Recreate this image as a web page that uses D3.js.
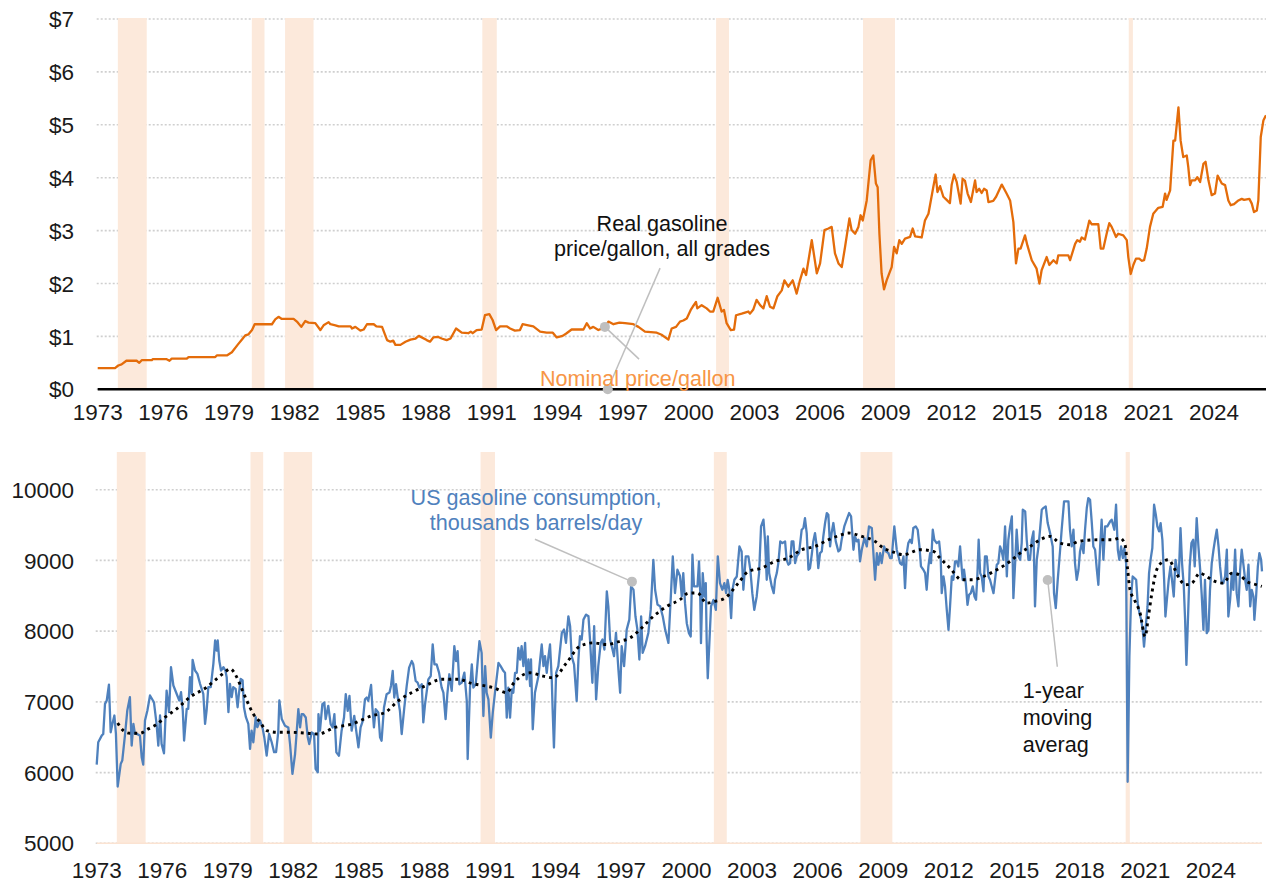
<!DOCTYPE html>
<html><head><meta charset="utf-8">
<script src="https://cdn.jsdelivr.net/npm/d3@7"></script>
<style>
html,body{margin:0;padding:0;background:#fff;}
svg{display:block;}
.tick{font-family:"Liberation Sans",Arial,sans-serif;font-size:22.5px;fill:#1a1a1a;}
.ann{font-family:"Liberation Sans",Arial,sans-serif;font-size:21.6px;}
</style></head>
<body>
<svg id="chart" width="1266" height="886"></svg>
<script>
// ---------- DATA ----------
const tickYears = [1973,1976,1979,1982,1985,1988,1991,1994,1997,2000,2003,2006,2009,2012,2015,2018,2021,2024];
const priceTicks = [0,1,2,3,4,5,6,7];
const consTicks = [5000,6000,7000,8000,9000,10000];
const recessions = [[1973.92,1975.24],[1980.04,1980.62],[1981.56,1982.86],[1990.57,1991.23],[2001.25,2001.84],[2007.96,2009.42],[2020.10,2020.29]];

const price1973_1989 = [[1973.00,0.40],[1973.79,0.40],[1973.94,0.45],[1974.09,0.47],[1974.31,0.54],[1974.78,0.54],[1974.90,0.50],[1975.01,0.55],[1975.47,0.55],[1975.51,0.57],[1976.15,0.57],[1976.28,0.54],[1976.38,0.58],[1977.07,0.58],[1977.15,0.61],[1978.37,0.61],[1978.44,0.64],[1978.90,0.64],[1979.13,0.70],[1979.39,0.84],[1979.59,0.94],[1979.74,1.02],[1979.89,1.04],[1980.05,1.12],[1980.17,1.23],[1980.96,1.23],[1981.11,1.32],[1981.26,1.37],[1981.41,1.33],[1981.95,1.33],[1982.10,1.28],[1982.30,1.18],[1982.48,1.29],[1982.63,1.26],[1982.94,1.25],[1983.17,1.12],[1983.32,1.21],[1983.55,1.27],[1983.63,1.23],[1983.86,1.21],[1984.01,1.19],[1984.55,1.19],[1984.62,1.15],[1984.77,1.18],[1985.00,1.11],[1985.15,1.13],[1985.30,1.23],[1985.61,1.23],[1985.73,1.19],[1985.99,1.18],[1986.22,0.93],[1986.37,0.90],[1986.50,0.92],[1986.60,0.84],[1986.83,0.84],[1987.06,0.90],[1987.29,0.94],[1987.52,0.96],[1987.67,1.01],[1988.03,0.93],[1988.18,0.90],[1988.33,0.98],[1988.56,0.99],[1988.71,0.96],[1988.94,0.93],[1989.12,0.96],[1989.37,1.15],[1989.63,1.07],[1989.93,1.06]];
const price1990_2006 = [[1990.04,1.09],[1990.13,1.06],[1990.31,1.12],[1990.54,1.13],[1990.69,1.40],[1990.89,1.42],[1991.04,1.31],[1991.20,1.12],[1991.38,1.19],[1991.68,1.19],[1991.84,1.15],[1992.06,1.11],[1992.29,1.12],[1992.41,1.23],[1992.67,1.21],[1992.90,1.19],[1993.21,1.09],[1993.51,1.07],[1993.79,1.07],[1993.97,0.98],[1994.24,1.01],[1994.42,1.06],[1994.65,1.13],[1995.19,1.13],[1995.34,1.25],[1995.49,1.15],[1995.64,1.18],[1995.87,1.12],[1996.17,1.17],[1996.33,1.28],[1996.56,1.23],[1996.83,1.26],[1997.09,1.25],[1997.47,1.23],[1997.70,1.18],[1998.00,1.09],[1998.54,1.07],[1998.76,1.03],[1999.07,0.94],[1999.22,1.15],[1999.42,1.18],[1999.60,1.28],[1999.75,1.30],[1999.91,1.34],[2000.09,1.50],[2000.18,1.56],[2000.33,1.65],[2000.39,1.53],[2000.59,1.59],[2000.82,1.53],[2000.97,1.47],[2001.12,1.47],[2001.32,1.73],[2001.50,1.47],[2001.61,1.50],[2001.73,1.25],[2001.92,1.12],[2002.07,1.13],[2002.16,1.40],[2002.42,1.43],[2002.72,1.47],[2002.80,1.43],[2002.95,1.51],[2003.10,1.69],[2003.26,1.59],[2003.41,1.53],[2003.56,1.76],[2003.71,1.56],[2003.87,1.53],[2004.05,1.76],[2004.25,1.87],[2004.37,2.06],[2004.55,1.94],[2004.75,2.06],[2004.93,1.81],[2005.08,2.06],[2005.24,2.28],[2005.36,2.16],[2005.62,2.82],[2005.85,2.19],[2006.00,2.38],[2006.20,3.01],[2006.38,3.04],[2006.53,3.07],[2006.68,2.57],[2006.84,2.38]];
const price2007_2026 = [[2006.99,2.31],[2007.14,2.69],[2007.34,3.23],[2007.44,3.01],[2007.60,2.94],[2007.75,3.07],[2007.85,3.29],[2007.95,3.19],[2008.13,3.57],[2008.31,4.33],[2008.43,4.42],[2008.55,3.89],[2008.63,3.82],[2008.71,2.94],[2008.81,2.19],[2008.92,1.89],[2009.04,2.06],[2009.16,2.19],[2009.27,2.31],[2009.38,2.69],[2009.50,2.57],[2009.62,2.82],[2009.73,2.75],[2009.88,2.85],[2010.11,2.88],[2010.23,3.04],[2010.34,2.89],[2010.64,2.87],[2010.79,3.19],[2010.95,3.32],[2011.17,3.82],[2011.28,4.06],[2011.36,3.73],[2011.48,3.84],[2011.63,3.64],[2011.78,3.58],[2011.93,3.52],[2012.01,3.86],[2012.12,4.06],[2012.24,3.92],[2012.42,3.51],[2012.51,3.98],[2012.62,3.94],[2012.74,3.70],[2012.89,3.54],[2013.08,3.95],[2013.15,3.73],[2013.27,3.79],[2013.38,3.71],[2013.49,3.79],[2013.61,3.76],[2013.69,3.54],[2013.91,3.56],[2014.04,3.64],[2014.30,3.87],[2014.52,3.70],[2014.68,3.57],[2014.83,3.16],[2014.95,2.38],[2015.06,2.66],[2015.16,2.66],[2015.36,2.91],[2015.47,2.72],[2015.67,2.44],[2015.89,2.28],[2016.02,2.00],[2016.12,2.25],[2016.35,2.50],[2016.47,2.35],[2016.66,2.44],[2016.81,2.38],[2016.88,2.53],[2017.34,2.53],[2017.42,2.44],[2017.65,2.75],[2017.75,2.82],[2017.87,2.79],[2017.95,2.87],[2018.10,2.83],[2018.30,3.19],[2018.41,3.12],[2018.71,3.12],[2018.82,2.66],[2018.94,2.66],[2019.09,2.94],[2019.21,3.14],[2019.32,3.07],[2019.52,2.88],[2019.62,2.94],[2019.85,2.91],[2020.01,2.82],[2020.08,2.50],[2020.19,2.18],[2020.31,2.35],[2020.43,2.47],[2020.58,2.47],[2020.69,2.43],[2020.80,2.44],[2020.92,2.66],[2021.07,3.07],[2021.22,3.32],[2021.45,3.43],[2021.65,3.45],[2021.76,3.70],[2021.83,3.58],[2021.99,3.76],[2022.14,4.70],[2022.22,4.70],[2022.37,5.33],[2022.47,4.70],[2022.59,4.39],[2022.75,4.42],[2022.82,4.20],[2022.90,3.86],[2022.98,3.95],[2023.13,3.95],[2023.23,4.01],[2023.36,3.92],[2023.51,4.26],[2023.61,4.30],[2023.74,3.95],[2023.89,3.67],[2024.04,3.70],[2024.16,4.04],[2024.35,3.89],[2024.50,3.86],[2024.65,3.57],[2024.76,3.48],[2024.91,3.50],[2025.11,3.57],[2025.26,3.60],[2025.37,3.58],[2025.61,3.60],[2025.72,3.51],[2025.82,3.35],[2025.95,3.38],[2026.02,3.57],[2026.13,4.77],[2026.25,5.08],[2026.37,5.18]];

const cons1973_1981 = [[1973.00,6113],[1973.07,6429],[1973.23,6523],[1973.30,6547],[1973.38,6972],[1973.46,7019],[1973.56,7245],[1973.64,6570],[1973.72,6689],[1973.81,6807],[1973.88,6547],[1973.96,5802],[1974.10,6123],[1974.17,6170],[1974.30,6547],[1974.40,6877],[1974.52,7066],[1974.60,6382],[1974.68,6689],[1974.75,6547],[1974.83,6547],[1974.98,6524],[1975.06,6217],[1975.13,6113],[1975.21,6736],[1975.32,6877],[1975.44,7090],[1975.62,6995],[1975.74,6689],[1975.82,6382],[1975.90,6807],[1975.97,6406],[1976.08,6273],[1976.20,7160],[1976.31,6854],[1976.40,7490],[1976.51,7231],[1976.69,7090],[1976.78,7019],[1976.86,7137],[1976.94,6877],[1977.00,6453],[1977.12,6901],[1977.19,6901],[1977.27,7349],[1977.35,7113],[1977.39,7594],[1977.50,7443],[1977.61,7396],[1977.73,7255],[1977.88,7113],[1977.96,6689],[1978.03,6877],[1978.11,7208],[1978.22,7208],[1978.34,7538],[1978.42,7868],[1978.49,7726],[1978.54,7868],[1978.61,7585],[1978.69,7443],[1978.80,7490],[1978.89,7443],[1978.95,7349],[1979.03,6854],[1979.10,7255],[1979.18,7066],[1979.25,7208],[1979.36,7184],[1979.45,6924],[1979.51,7113],[1979.59,7325],[1979.68,7302],[1979.74,6924],[1979.83,6783],[1979.94,6689],[1980.02,6335],[1980.09,6594],[1980.17,6429],[1980.28,6783],[1980.35,6642],[1980.48,6736],[1980.60,6618],[1980.67,6500],[1980.78,6240],[1980.89,6547],[1981.01,6429],[1981.12,6288],[1981.21,6288],[1981.31,6571],[1981.36,7019],[1981.47,6759]];
const cons1981_1990 = [[1981.62,6662],[1981.77,6638],[1981.85,6404],[1981.96,5981],[1982.08,6263],[1982.23,6897],[1982.31,6638],[1982.38,6826],[1982.46,6826],[1982.57,6779],[1982.66,6498],[1982.73,6404],[1982.84,6568],[1982.95,6545],[1983.02,6052],[1983.12,6005],[1983.15,6826],[1983.22,6592],[1983.33,6967],[1983.42,6990],[1983.48,6756],[1983.60,6944],[1983.71,6685],[1983.80,6638],[1983.88,6826],[1983.97,6286],[1984.09,6239],[1984.21,6592],[1984.32,6779],[1984.40,7108],[1984.49,6873],[1984.57,7084],[1984.67,6592],[1984.79,6803],[1984.90,6545],[1984.98,6357],[1985.08,6638],[1985.18,6732],[1985.28,7037],[1985.36,7061],[1985.43,7014],[1985.56,7239],[1985.62,6920],[1985.69,6638],[1985.77,6897],[1985.89,6850],[1985.97,6498],[1986.04,6451],[1986.15,6920],[1986.27,7108],[1986.40,7131],[1986.47,7225],[1986.55,7437],[1986.62,7061],[1986.70,7249],[1986.78,7061],[1986.88,6873],[1986.96,6545],[1987.08,6920],[1987.19,7225],[1987.30,7484],[1987.42,7577],[1987.49,7531],[1987.60,7296],[1987.69,7272],[1987.77,7202],[1987.88,7249],[1987.95,6709],[1988.03,6967],[1988.18,7319],[1988.29,7366],[1988.38,7812],[1988.46,7531],[1988.56,7531],[1988.67,7413],[1988.79,7202],[1988.87,7131],[1988.97,6756],[1989.05,7108],[1989.14,7390],[1989.25,7155],[1989.37,7789],[1989.45,7577],[1989.52,7718],[1989.60,7249],[1989.71,7272],[1989.83,7413],[1989.94,7014],[1989.98,6192],[1990.09,7202],[1990.17,7531],[1990.24,7202],[1990.35,7249],[1990.44,7577],[1990.52,7859],[1990.62,7693]];
const cons1990_1999 = [[1990.70,6800],[1990.78,7505],[1990.85,7129],[1990.93,7035],[1991.04,6495],[1991.13,6847],[1991.23,7129],[1991.39,7552],[1991.49,7505],[1991.62,7435],[1991.69,7411],[1991.77,6777],[1991.84,7200],[1991.92,6777],[1992.00,7176],[1992.07,7129],[1992.15,7411],[1992.23,7411],[1992.30,7764],[1992.38,7599],[1992.45,7787],[1992.53,7505],[1992.61,7834],[1992.68,7317],[1992.76,7599],[1992.84,7223],[1992.88,7599],[1992.96,6612],[1993.06,7129],[1993.22,7364],[1993.37,7811],[1993.45,7505],[1993.52,7646],[1993.60,7411],[1993.68,7646],[1993.75,7811],[1993.83,7317],[1993.87,6894],[1993.93,6354],[1994.03,7411],[1994.13,7505],[1994.29,7975],[1994.39,8022],[1994.48,7834],[1994.59,8210],[1994.67,8069],[1994.74,7646],[1994.85,7529],[1994.97,7012],[1995.05,7599],[1995.12,7928],[1995.20,7881],[1995.28,8163],[1995.40,8234],[1995.51,8210],[1995.58,7881],[1995.69,7270],[1995.77,8069],[1995.86,7035],[1995.96,7505],[1996.07,7834],[1996.15,7881],[1996.24,7740],[1996.35,8563],[1996.42,8351],[1996.50,7881],[1996.61,7740],[1996.68,7646],[1996.77,7975],[1996.88,7458],[1996.96,7129],[1997.03,7787],[1997.14,7505],[1997.26,8022],[1997.38,8163],[1997.46,8633],[1997.57,8586],[1997.66,8210],[1997.75,8022],[1997.84,7599],[1997.92,8210],[1997.99,7693],[1998.10,7787],[1998.25,7975],[1998.36,8304],[1998.48,9009],[1998.56,8586],[1998.67,8375],[1998.79,8351],[1998.91,8210],[1999.02,8022],[1999.17,7834],[1999.28,8492],[1999.37,9056],[1999.47,8539],[1999.58,8868],[1999.70,8780]];
const cons2000_2008 = [[1999.78,8490],[1999.85,8821],[1999.93,8396],[2000.01,8113],[2000.11,7971],[2000.19,7924],[2000.27,9080],[2000.34,8632],[2000.42,8632],[2000.50,8632],[2000.57,8986],[2000.62,8585],[2000.66,7830],[2000.74,8821],[2000.82,8490],[2000.88,8679],[2000.92,7877],[2000.97,7334],[2001.05,7877],[2001.12,8349],[2001.23,8443],[2001.34,8301],[2001.43,9057],[2001.53,8679],[2001.64,8585],[2001.73,8679],[2001.81,8537],[2001.88,8726],[2001.96,8585],[2002.04,8183],[2002.10,8585],[2002.19,8726],[2002.30,8773],[2002.42,9198],[2002.52,9127],[2002.60,8585],[2002.71,9057],[2002.83,9057],[2002.92,8868],[2003.01,8537],[2003.10,8301],[2003.21,8490],[2003.32,8821],[2003.41,9481],[2003.52,9576],[2003.59,9293],[2003.67,8726],[2003.72,9340],[2003.78,8821],[2003.90,8632],[2003.99,8537],[2004.05,8726],[2004.13,8821],[2004.20,8962],[2004.29,9269],[2004.39,9245],[2004.51,9269],[2004.58,9009],[2004.66,8939],[2004.74,8962],[2004.81,9269],[2004.89,9269],[2004.97,8962],[2005.04,9057],[2005.15,9104],[2005.27,9434],[2005.35,9458],[2005.42,9599],[2005.50,9387],[2005.58,8868],[2005.65,8891],[2005.73,9080],[2005.80,9269],[2005.88,9387],[2005.96,9198],[2006.03,8891],[2006.11,9104],[2006.19,9127],[2006.26,9340],[2006.34,9529],[2006.42,9670],[2006.49,9647],[2006.57,9198],[2006.64,9387],[2006.72,9529],[2006.83,9269],[2006.95,9127],[2007.03,9151],[2007.10,9293],[2007.22,9481],[2007.33,9576],[2007.44,9670],[2007.53,9623],[2007.64,9151],[2007.71,9340],[2007.79,9269],[2007.87,9293],[2007.94,8986],[2008.02,9151],[2008.14,9316],[2008.25,9198],[2008.35,9481],[2008.48,9458]];
const cons2008_2017 = [[2008.63,8726],[2008.71,9104],[2008.78,8939],[2008.86,9104],[2008.93,8962],[2009.04,9198],[2009.13,9127],[2009.24,9104],[2009.32,9033],[2009.39,9033],[2009.51,9481],[2009.62,9151],[2009.70,9057],[2009.77,8962],[2009.85,8939],[2009.93,9057],[2010.00,8608],[2010.08,9104],[2010.15,9245],[2010.23,9292],[2010.31,9245],[2010.38,9458],[2010.49,9481],[2010.58,9434],[2010.66,9198],[2010.73,8915],[2010.84,8868],[2010.92,8820],[2010.99,8585],[2011.07,8915],[2011.15,9104],[2011.19,8962],[2011.27,9434],[2011.34,9292],[2011.45,9245],[2011.56,9269],[2011.63,9057],[2011.68,8537],[2011.76,8773],[2011.83,8632],[2011.91,8302],[2011.99,8018],[2012.06,8349],[2012.14,8773],[2012.21,8726],[2012.29,8986],[2012.37,8986],[2012.44,8915],[2012.52,9198],[2012.60,8868],[2012.64,8726],[2012.70,8868],[2012.78,8679],[2012.86,8372],[2012.93,8514],[2013.01,8537],[2013.10,8632],[2013.18,8490],[2013.25,8443],[2013.31,8773],[2013.37,9292],[2013.44,8820],[2013.51,8773],[2013.59,8561],[2013.66,9057],[2013.74,9057],[2013.82,8773],[2013.89,8726],[2013.97,8632],[2014.05,8537],[2014.12,8726],[2014.20,8939],[2014.27,8962],[2014.35,9198],[2014.43,9127],[2014.50,9009],[2014.58,9481],[2014.66,8773],[2014.73,9292],[2014.81,9481],[2014.89,9623],[2014.96,8467],[2015.04,8962],[2015.11,9434],[2015.19,9057],[2015.27,9009],[2015.34,9245],[2015.39,9717],[2015.50,9693],[2015.57,9292],[2015.65,9009],[2015.72,9009],[2015.80,9292],[2015.88,9410],[2015.95,8349],[2016.03,9009],[2016.11,9198],[2016.18,9434],[2016.26,9717],[2016.33,9740],[2016.44,9764],[2016.53,9528],[2016.64,9387],[2016.76,9198],[2016.82,8537],[2016.90,8325],[2016.99,8726],[2017.10,9151],[2017.17,9434],[2017.28,9835],[2017.40,9835]];
const cons2017_2026 = [[2017.48,9835],[2017.55,9434],[2017.63,9198],[2017.71,9434],[2017.78,8962],[2017.86,8726],[2017.94,8868],[2018.01,9127],[2018.09,9245],[2018.17,9104],[2018.24,9434],[2018.32,9741],[2018.39,9882],[2018.47,9858],[2018.55,9528],[2018.62,9198],[2018.70,9151],[2018.78,8868],[2018.85,8655],[2018.93,9198],[2019.00,9576],[2019.08,9009],[2019.16,9481],[2019.26,9481],[2019.39,9552],[2019.46,9576],[2019.58,9434],[2019.66,9788],[2019.74,9151],[2019.81,9009],[2019.89,9198],[2019.97,9033],[2020.04,9175],[2020.12,8962],[2020.19,5870],[2020.27,7640],[2020.35,8490],[2020.42,8773],[2020.50,8750],[2020.58,8726],[2020.65,8396],[2020.73,8254],[2020.81,8160],[2020.88,8018],[2020.94,7782],[2021.02,8066],[2021.10,8349],[2021.17,8820],[2021.25,9033],[2021.32,9175],[2021.40,9788],[2021.48,9646],[2021.55,9481],[2021.63,9410],[2021.70,9528],[2021.78,9292],[2021.86,8726],[2021.92,8207],[2022.00,8490],[2022.07,8726],[2022.15,8915],[2022.22,8726],[2022.30,8490],[2022.38,9009],[2022.45,8868],[2022.53,8773],[2022.61,9458],[2022.68,8962],[2022.76,8632],[2022.82,8160],[2022.88,7523],[2022.96,8254],[2023.03,8915],[2023.11,9245],[2023.19,9292],[2023.26,8915],[2023.35,9599],[2023.43,9198],[2023.51,8868],[2023.58,8514],[2023.66,8018],[2023.73,8726],[2023.81,7971],[2023.89,8018],[2023.96,8585],[2024.04,8962],[2024.12,9151],[2024.19,9292],[2024.27,9434],[2024.35,9198],[2024.42,8915],[2024.50,8679],[2024.57,8679],[2024.65,8773],[2024.73,9151],[2024.80,8207],[2024.88,8443],[2024.96,8820],[2025.03,8584],[2025.11,9151],[2025.18,8537],[2025.26,8349],[2025.34,8868],[2025.41,9151],[2025.49,8939],[2025.57,8726],[2025.64,8584],[2025.72,8939],[2025.80,8349],[2025.87,8584],[2025.95,8490],[2025.99,8160],[2026.07,8490],[2026.15,8915],[2026.22,9104],[2026.30,9009],[2026.34,8844]];

const movingAvg = [[1973.96,6700],[1974.22,6594],[1974.52,6557],[1974.98,6557],[1975.36,6618],[1975.74,6680],[1976.13,6783],[1976.66,6901],[1977.27,7066],[1978.03,7207],[1978.49,7325],[1978.87,7420],[1979.10,7467],[1979.41,7350],[1979.64,7184],[1979.87,7019],[1980.17,6830],[1980.48,6712],[1980.78,6594],[1981.24,6570],[1981.85,6570],[1982.50,6560],[1983.14,6545],[1983.90,6638],[1984.67,6685],[1985.59,6803],[1986.20,6850],[1986.80,7014],[1987.42,7131],[1988.03,7225],[1988.80,7319],[1989.55,7319],[1990.17,7260],[1990.78,7225],[1991.16,7200],[1991.77,7130],[1992.10,7270],[1992.83,7411],[1993.44,7364],[1993.90,7341],[1994.51,7552],[1995.12,7787],[1995.73,7834],[1996.35,7811],[1996.96,7858],[1997.42,7905],[1997.87,8022],[1998.48,8210],[1999.10,8351],[1999.70,8445],[2000.08,8537],[2000.50,8540],[2000.92,8396],[2001.30,8420],[2001.76,8467],[2002.37,8679],[2002.83,8844],[2003.44,8891],[2004.05,8986],[2004.66,9033],[2005.27,9151],[2005.88,9198],[2006.49,9292],[2007.10,9363],[2007.41,9387],[2008.02,9340],[2008.63,9269],[2009.01,9175],[2009.40,9127],[2009.92,9080],[2010.69,9151],[2011.30,9127],[2011.60,9033],[2012.06,8891],[2012.60,8726],[2013.10,8726],[2013.59,8773],[2014.20,8868],[2014.81,8986],[2015.27,9104],[2015.73,9198],[2016.19,9292],[2016.64,9340],[2017.10,9245],[2017.56,9222],[2017.93,9269],[2018.84,9292],[2019.50,9292],[2019.84,9316],[2020.07,9222],[2020.19,8868],[2020.30,8584],[2020.50,8443],[2020.76,8254],[2020.99,7924],[2021.14,8207],[2021.30,8538],[2021.52,8868],[2021.83,8986],[2022.06,9009],[2022.28,8915],[2022.59,8726],[2022.82,8655],[2023.13,8679],[2023.50,8820],[2023.80,8773],[2024.19,8703],[2024.57,8679],[2024.96,8820],[2025.30,8797],[2025.64,8703],[2026.10,8655],[2026.33,8632]];

// annotation anchors in data units
const annTopReal = {x:1998.78, y:2.99, lines:["Real gasoline","price/gallon, all grades"]};
const annTopNominal = {x:1993.20, y:0.06, text:"Nominal price/gallon"};
const leaderTop = [[[1998.69,2.29],[1996.30,0.0]], [[1996.17,1.18],[1997.73,0.57]]];
const dotsTop = [[1996.30,0.0],[1996.17,1.18]];
const annCons = {x:1993.11, y:9784, lines:["US gasoline consumption,","thousands barrels/day"]};
const annMA = {x:2015.39, y:7057, lines:["1-year","moving","averag"]};
const leaderBot = [[[1993.06,9299],[1997.50,8700]], [[2016.53,8723],[2016.97,7497]]];
const dotsBot = [[1997.50,8700],[2016.53,8723]];

// ---------- DRAW ----------
const svg = d3.select("#chart");
const C = {orange:"#E46C0A", blue:"#4F81BD", band:"#FCE9DB", grid:"#CFCFCF", lead:"#BFBFBF", nominal:"#F79646"};

function panel(cfg){
  const x = d3.scaleLinear().domain(cfg.xDom).range(cfg.xRange);
  const y = d3.scaleLinear().domain(cfg.yDom).range(cfg.yRange);
  const g = svg.append("g");
  g.selectAll("line.grid").data(cfg.yTicks).join("line")
    .attr("x1", cfg.xRange[0]-1).attr("x2", cfg.xRange[1])
    .attr("y1", d=>y(d)).attr("y2", d=>y(d))
    .attr("stroke", C.grid).attr("stroke-width",1.6).attr("stroke-dasharray","2,2");
  g.selectAll("rect.rec").data(recessions).join("rect")
    .attr("x", d=>x(d[0])).attr("width", d=>x(d[1])-x(d[0]))
    .attr("y", cfg.bandTop).attr("height", y(cfg.yDom[0])-cfg.bandTop)
    .attr("fill", C.band);
  g.selectAll("text.yt").data(cfg.yTicks).join("text").attr("class","tick")
    .attr("x", 74).attr("y", d=>y(d)).attr("dy","0.36em").attr("text-anchor","end")
    .text(cfg.yFmt);
  g.selectAll("text.xt").data(tickYears).join("text").attr("class","tick")
    .attr("x", d=>x(d)).attr("y", y(cfg.yDom[0]) + cfg.xLabOff).attr("text-anchor","middle")
    .text(d=>d);
  return {x,y,g};
}

// TOP PANEL
const pTop = panel({xDom:[1973,2026.37], xRange:[97.7,1266], yDom:[0,7], yRange:[389.3,19],
  yTicks:priceTicks, yFmt:d=>"$"+d, bandTop:18, xLabOff:31});
pTop.g.append("line").attr("x1",97.7).attr("x2",1266).attr("y1",pTop.y(0)).attr("y2",pTop.y(0))
  .attr("stroke","#000").attr("stroke-width",2.4);
const lineT = d3.line().x(d=>pTop.x(d[0])).y(d=>pTop.y(d[1]));
pTop.g.append("path").datum(price1973_1989.concat(price1990_2006, price2007_2026))
  .attr("d", lineT).attr("fill","none").attr("stroke",C.orange).attr("stroke-width",2.3).attr("stroke-linejoin","round");
leaderTop.forEach(seg=>{
  pTop.g.append("line").attr("x1",pTop.x(seg[0][0])).attr("y1",pTop.y(seg[0][1]))
    .attr("x2",pTop.x(seg[1][0])).attr("y2",pTop.y(seg[1][1]))
    .attr("stroke",C.lead).attr("stroke-width",1.5);
});
pTop.g.selectAll("circle.d").data(dotsTop).join("circle")
  .attr("cx",d=>pTop.x(d[0])).attr("cy",d=>pTop.y(d[1])).attr("r",5).attr("fill",C.lead);
const tReal = pTop.g.append("text").attr("class","ann").attr("text-anchor","middle").attr("fill","#111")
  .attr("x", pTop.x(annTopReal.x)).attr("y", pTop.y(annTopReal.y));
annTopReal.lines.forEach((l,i)=>tReal.append("tspan").attr("x", pTop.x(annTopReal.x)).attr("dy", i?25:0).text(l));
pTop.g.append("text").attr("class","ann").attr("fill",C.nominal)
  .attr("x", pTop.x(annTopNominal.x)).attr("y", pTop.y(annTopNominal.y)).text(annTopNominal.text);

// BOTTOM PANEL
const pBot = panel({xDom:[1973,2026.34], xRange:[96.7,1262], yDom:[5000,10000], yRange:[843.3,489.7],
  yTicks:consTicks, yFmt:d=>d, bandTop:452, xLabOff:35});
pBot.g.append("line").attr("x1",96.7).attr("x2",1262).attr("y1",pBot.y(5000)).attr("y2",pBot.y(5000))
  .attr("stroke","#FBE3D2").attr("stroke-width",1.5);
const lineB = d3.line().x(d=>pBot.x(d[0])).y(d=>pBot.y(d[1]));
pBot.g.append("path").datum(cons1973_1981.concat(cons1981_1990, cons1990_1999, cons2000_2008, cons2008_2017, cons2017_2026))
  .attr("d", lineB).attr("fill","none").attr("stroke",C.blue).attr("stroke-width",2.3).attr("stroke-linejoin","round");
pBot.g.append("path").datum(movingAvg)
  .attr("d", d3.line().x(d=>pBot.x(d[0])).y(d=>pBot.y(d[1])).curve(d3.curveMonotoneX))
  .attr("fill","none").attr("stroke","#000").attr("stroke-width",2.9).attr("stroke-dasharray","2.9,4.1");
leaderBot.forEach(seg=>{
  pBot.g.append("line").attr("x1",pBot.x(seg[0][0])).attr("y1",pBot.y(seg[0][1]))
    .attr("x2",pBot.x(seg[1][0])).attr("y2",pBot.y(seg[1][1]))
    .attr("stroke",C.lead).attr("stroke-width",1.5);
});
pBot.g.selectAll("circle.d").data(dotsBot).join("circle")
  .attr("cx",d=>pBot.x(d[0])).attr("cy",d=>pBot.y(d[1])).attr("r",5).attr("fill",C.lead);
const tCons = pBot.g.append("text").attr("class","ann").attr("text-anchor","middle").attr("fill",C.blue)
  .attr("x", pBot.x(annCons.x)).attr("y", pBot.y(annCons.y));
annCons.lines.forEach((l,i)=>tCons.append("tspan").attr("x", pBot.x(annCons.x)).attr("dy", i?25:0).text(l));
const tMA = pBot.g.append("text").attr("class","ann").attr("fill","#111")
  .attr("x", pBot.x(annMA.x)).attr("y", pBot.y(annMA.y));
annMA.lines.forEach((l,i)=>tMA.append("tspan").attr("x", pBot.x(annMA.x)).attr("dy", i?27:0).text(l));
</script>
</body></html>
